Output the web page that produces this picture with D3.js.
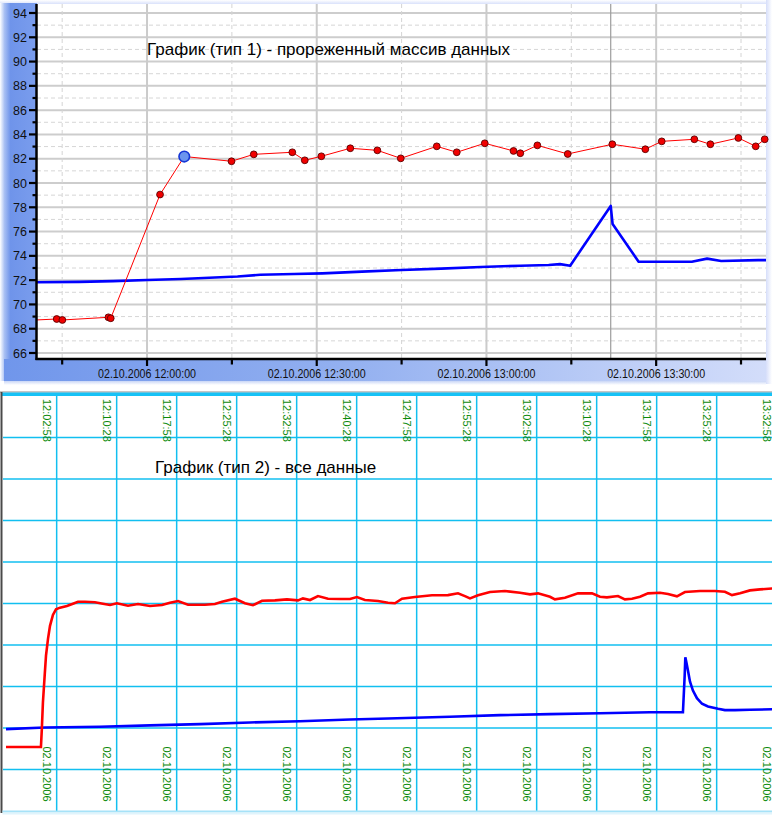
<!DOCTYPE html>
<html><head><meta charset="utf-8">
<script src="https://cdn.jsdelivr.net/npm/d3@7"></script>
<style>body{margin:0;background:#fff}svg{display:block}text{font-family:"Liberation Sans",Arial,sans-serif}</style>
</head><body><svg id="c" width="772" height="822"></svg>
<script>
// ---------------- DATA ----------------
const dateLabel = "02.10.2006";
// Chart 1 (thinned data)
const topTitle = "График (тип 1) - прореженный массив данных";
const topRedTimes = ["11:39:30","11:44:02","11:45:02","11:53:10","11:53:35","12:02:18","12:06:35","12:14:56","12:18:52","12:25:41","12:27:53","12:30:49","12:35:56","12:40:43","12:44:51","12:51:13","12:54:45","12:59:42","13:04:47","13:05:59","13:09:00","13:14:22","13:22:15","13:28:05","13:30:59","13:36:45","13:39:35","13:44:32","13:47:36","13:49:11"];
const topRedValues = [68.70,68.80,68.72,68.94,68.86,79.05,82.18,81.79,82.36,82.53,81.87,82.20,82.86,82.69,82.03,83.02,82.53,83.27,82.64,82.45,83.10,82.39,83.19,82.78,83.43,83.60,83.19,83.71,83.02,83.60];
const topRedShowMarker = [false,true,true,true,true,true,true,true,true,true,true,true,true,true,true,true,true,true,true,true,true,true,true,true,true,true,true,true,true,true];
const highlightIndex = 6;
const topBlueTimes = ["11:40:00","11:48:00","11:54:00","12:00:00","12:06:00","12:11:00","12:16:00","12:20:00","12:26:00","12:31:00","12:38:00","12:45:00","12:52:00","12:59:00","13:06:00","13:11:00","13:13:00","13:14:48","13:21:58","13:22:18","13:26:54","13:36:18","13:39:00","13:41:30","13:48:00","13:51:00"];
const topBlueValues = [71.82,71.86,71.92,72.01,72.10,72.20,72.30,72.44,72.50,72.56,72.70,72.84,72.95,73.08,73.19,73.25,73.32,73.19,78.11,76.62,73.52,73.52,73.77,73.58,73.65,73.65];
const cursorTime = "13:21:58";
const topYMin = 66, topYMax = 94;

// Chart 2 (all data)
const botTitle = "График (тип 2) - все данные";
const botTickTimes = ["12:02:58","12:10:28","12:17:58","12:25:28","12:32:58","12:40:28","12:47:58","12:55:28","13:02:58","13:10:28","13:17:58","13:25:28","13:32:58"];
const botRedTimes = ["11:56:38","12:01:00","12:01:07","12:01:15","12:01:28","12:01:38","12:01:53","12:02:08","12:02:30","12:02:53","12:03:23","12:04:15","12:05:00","12:05:38","12:06:30","12:07:45","12:08:45","12:09:38","12:10:30","12:11:53","12:13:08","12:14:38","12:16:08","12:17:08","12:18:08","12:19:23","12:21:30","12:22:45","12:23:38","12:25:15","12:26:30","12:27:30","12:28:38","12:30:15","12:31:45","12:33:08","12:33:45","12:34:38","12:35:38","12:36:53","12:38:23","12:39:38","12:40:30","12:41:30","12:43:08","12:44:23","12:45:15","12:46:08","12:47:45","12:49:53","12:51:53","12:53:08","12:54:00","12:54:38","12:55:38","12:57:08","12:59:00","13:00:53","13:02:08","13:03:08","13:04:38","13:05:15","13:06:30","13:08:08","13:09:53","13:10:53","13:11:45","13:13:08","13:14:00","13:14:53","13:15:53","13:16:53","13:18:23","13:19:23","13:20:30","13:21:30","13:23:23","13:25:15","13:26:30","13:27:23","13:28:23","13:29:38","13:30:53","13:32:23","13:33:23"];
const botRedValues = [68.86,68.86,70.56,72.96,75.39,77.22,78.76,79.95,80.95,81.47,81.62,81.77,81.98,82.16,82.16,82.11,81.98,81.86,82.02,81.80,81.95,81.77,81.86,82.07,82.23,81.89,81.89,81.95,82.16,82.44,82.02,81.84,82.25,82.29,82.38,82.29,82.47,82.32,82.68,82.44,82.41,82.41,82.59,82.32,82.23,82.07,82.02,82.44,82.59,82.75,82.77,82.93,82.68,82.47,82.75,83.05,83.14,82.98,82.84,82.93,82.62,82.38,82.53,82.93,82.93,82.62,82.56,82.68,82.38,82.44,82.62,82.93,82.98,82.87,82.66,83.05,83.14,83.14,83.07,82.77,82.93,83.20,83.29,83.38,83.40];
const botBlueTimes = ["11:56:38","12:01:30","12:08:23","12:14:38","12:20:53","12:27:08","12:33:23","12:39:38","12:44:23","12:52:08","12:58:23","13:04:38","13:10:53","13:17:08","13:21:15","13:21:28","13:21:33","13:21:40","13:21:53","13:22:08","13:22:30","13:23:00","13:23:38","13:24:23","13:25:38","13:26:30","13:27:45","13:29:38","13:32:23","13:33:23"];
const botBlueValues = [71.80,71.95,72.01,72.13,72.24,72.39,72.50,72.65,72.74,72.89,73.03,73.12,73.20,73.29,73.29,76.50,78.11,77.73,76.94,75.98,75.19,74.52,74.03,73.79,73.59,73.47,73.47,73.50,73.55,73.55];
const botRedRange = [63, 101];      // pen scale of red trace
const botBlueRange = [64.6, 101.1]; // pen scale of blue trace
const botGridDivisions = 10;

// ---------------- DRAW ----------------
const parse = d3.timeParse("%H:%M:%S");
const fmtHM = d3.timeFormat("%H:%M:%S");
const svg = d3.select("#c");
const defs = svg.append("defs");

function lg(id, x2, y2, stops){
  const g = defs.append("linearGradient").attr("id", id).attr("x1",0).attr("y1",0).attr("x2",x2).attr("y2",y2);
  stops.forEach(s => g.append("stop").attr("offset", s[0]).attr("stop-color", s[1]));
}
lg("gLeft", 1, 0, [[0,"#ffffff"],[0.12,"#a9c0f3"],[0.28,"#6f94ea"],[1,"#7a9ded"]]);
lg("gBottom", 1, 0, [[0,"#7096eb"],[0.45,"#93b0f0"],[1,"#d3ddfa"]]);
lg("gTop", 0, 1, [[0,"#ffffff"],[1,"#d9e1fb"]]);
lg("gRight", 1, 0, [[0,"#d6defa"],[1,"#ffffff"]]);
lg("gUnder", 0, 1, [[0,"#c9d6f6"],[1,"#ffffff"]]);

// ---- Top chart ----
const T = {left:37, right:766, top:4, bottom:359};
const x1 = d3.scaleTime().domain([parse("11:40:33"), parse("13:49:25")]).range([T.left, T.right]);
const y1 = d3.scaleLinear().domain([topYMin, topYMax]).range([353, 13]);

svg.append("rect").attr("x",0).attr("y",0).attr("width",772).attr("height",4).attr("fill","url(#gTop)");
svg.append("rect").attr("x",766).attr("y",0).attr("width",6).attr("height",384).attr("fill","url(#gRight)");
svg.append("rect").attr("x",0).attr("y",3).attr("width",T.left).attr("height",378).attr("fill","url(#gLeft)");
svg.append("rect").attr("x",4).attr("y",T.bottom).attr("width",762).attr("height",22).attr("fill","url(#gBottom)");
svg.append("rect").attr("x",4).attr("y",381).attr("width",762).attr("height",4).attr("fill","url(#gUnder)");
svg.append("rect").attr("x",T.left).attr("y",T.top).attr("width",T.right-T.left).attr("height",T.bottom-T.top).attr("fill","#fff");

const gTop = svg.append("g");
const yTicks = d3.range(topYMin, topYMax+1, 1);
// horizontal grid
gTop.selectAll(".hg").data(yTicks).join("line")
  .attr("x1",T.left).attr("x2",T.right).attr("y1",d=>y1(d)).attr("y2",d=>y1(d))
  .attr("stroke", d=> d%2===0 ? "#cdcdcd" : "#d6d6d6")
  .attr("stroke-width", d=> d%2===0 ? 2 : 1)
  .attr("stroke-dasharray", d=> d%2===0 ? null : "4,3");
// vertical grid
const xTicks = d3.timeMinute.every(15).range(x1.domain()[0], x1.domain()[1]);
const isMajor = d => d.getMinutes()%30===0;
gTop.selectAll(".vg").data(xTicks).join("line")
  .attr("x1",d=>x1(d)).attr("x2",d=>x1(d)).attr("y1",T.top).attr("y2",T.bottom)
  .attr("stroke", d=> isMajor(d) ? "#cbcbcb" : "#d4d4d4")
  .attr("stroke-width", d=> isMajor(d) ? 2 : 1)
  .attr("stroke-dasharray", d=> isMajor(d) ? null : "4,3");
// cursor line
gTop.append("line").attr("x1",x1(parse(cursorTime))).attr("x2",x1(parse(cursorTime)))
  .attr("y1",T.top).attr("y2",T.bottom).attr("stroke","#9c9c9c").attr("stroke-width",1.2);

// title
gTop.append("text").attr("x",147).attr("y",55).attr("font-size",17).attr("fill","#000").text(topTitle);

// clip
defs.append("clipPath").attr("id","clipTop").append("rect")
  .attr("x",T.left).attr("y",T.top).attr("width",T.right-T.left).attr("height",T.bottom-T.top);

const topBlue = topBlueTimes.map((t,i)=>({t:parse(t), v:topBlueValues[i]}));
const topRed = topRedTimes.map((t,i)=>({t:parse(t), v:topRedValues[i], m:topRedShowMarker[i], i}));
const line1 = d3.line().x(d=>x1(d.t)).y(d=>y1(d.v));
gTop.append("path").attr("clip-path","url(#clipTop)").attr("d",line1(topBlue))
  .attr("fill","none").attr("stroke","#0000ff").attr("stroke-width",2.6).attr("stroke-linejoin","round");
gTop.append("path").attr("clip-path","url(#clipTop)").attr("d",line1(topRed))
  .attr("fill","none").attr("stroke","#ff0000").attr("stroke-width",1);
gTop.selectAll(".pt").data(topRed.filter(d=>d.m)).join("circle")
  .attr("cx",d=>x1(d.t)).attr("cy",d=>y1(d.v))
  .attr("r",d=> d.i===highlightIndex ? 5.3 : 3.4)
  .attr("fill",d=> d.i===highlightIndex ? "#6b95ee" : "#f00000")
  .attr("stroke",d=> d.i===highlightIndex ? "#1536d6" : "#5a0000")
  .attr("stroke-width",d=> d.i===highlightIndex ? 1.6 : 0.9);

// axes
const ax = svg.append("g").attr("stroke","#000");
ax.append("line").attr("x1",36.5).attr("x2",36.5).attr("y1",T.top).attr("y2",T.bottom+1).attr("stroke-width",2.5);
ax.append("line").attr("x1",35.5).attr("x2",T.right).attr("y1",T.bottom).attr("y2",T.bottom).attr("stroke-width",2.5);
ax.selectAll(".yt").data(yTicks).join("line")
  .attr("x1",d=> d%2===0 ? 29 : 32.5).attr("x2",36).attr("y1",d=>y1(d)).attr("y2",d=>y1(d))
  .attr("stroke-width",2.2);
ax.selectAll(".xt").data(xTicks).join("line")
  .attr("x1",d=>x1(d)).attr("x2",d=>x1(d)).attr("y1",T.bottom).attr("y2",d=> isMajor(d) ? 366 : 364.5)
  .attr("stroke-width",2.2);
svg.append("g").selectAll("text").data(yTicks.filter(d=>d%2===0)).join("text")
  .attr("x",27).attr("y",d=>y1(d)).attr("dy","0.36em").attr("text-anchor","end")
  .attr("font-size",12.5).attr("fill","#111").text(d=>d);
svg.append("g").selectAll("text").data(xTicks.filter(isMajor)).join("text")
  .attr("x",d=>x1(d)).attr("y",378).attr("text-anchor","middle")
  .attr("font-size",12.5).attr("fill","#111")
  .attr("textLength",98).attr("lengthAdjust","spacingAndGlyphs")
  .text(d=> dateLabel + " " + fmtHM(d));

// ---- Bottom chart ----
const B = {left:3, right:772, top:396, bottom:811};
const x2 = d3.scaleTime().domain([parse("11:56:23"), parse("13:33:23")]).range([4, 780]);
const yR = d3.scaleLinear().domain(botRedRange).range([B.bottom, B.top]);
const yB = d3.scaleLinear().domain(botBlueRange).range([B.bottom, B.top]);
const yG = d3.scaleLinear().domain([0, botGridDivisions]).range([B.bottom, B.top]);

const gB = svg.append("g");
gB.append("rect").attr("x",B.left).attr("y",B.top).attr("width",B.right-B.left).attr("height",B.bottom-B.top).attr("fill","#fff");
gB.selectAll(".bh").data(d3.range(1, botGridDivisions)).join("line")
  .attr("x1",B.left).attr("x2",B.right).attr("y1",d=>yG(d)).attr("y2",d=>yG(d))
  .attr("stroke","#12bff0").attr("stroke-width",1.5);
const botTicks = botTickTimes.map(parse);
gB.selectAll(".bv").data(botTicks).join("line")
  .attr("x1",d=>x2(d)).attr("x2",d=>x2(d)).attr("y1",B.top).attr("y2",B.bottom)
  .attr("stroke","#12bff0").attr("stroke-width",1.5);
// frame
gB.append("line").attr("x1",0).attr("x2",772).attr("y1",392).attr("y2",392).attr("stroke","#8d8d8d").attr("stroke-width",1);
gB.append("rect").attr("x",2).attr("y",392.5).attr("width",770).attr("height",3.5).attr("fill","#17c2f6");
gB.append("line").attr("x1",1.5).attr("x2",1.5).attr("y1",392).attr("y2",813).attr("stroke","#4a4a4a").attr("stroke-width",2);
gB.append("line").attr("x1",2.5).attr("x2",772).attr("y1",811.5).attr("y2",811.5).attr("stroke","#a6e2f8").attr("stroke-width",2);
gB.append("line").attr("x1",2.5).attr("x2",772).attr("y1",813.5).attr("y2",813.5).attr("stroke","#e0f4fc").attr("stroke-width",2);

// labels
gB.selectAll(".tl").data(botTicks).join("text")
  .attr("transform",d=>`translate(${x2(d)-14},399) rotate(90)`)
  .attr("font-size",11).attr("fill","#0b8a0b").text(d=>fmtHM(d));
gB.selectAll(".dl").data(botTicks).join("text")
  .attr("transform",d=>`translate(${x2(d)-14},746.5) rotate(90)`)
  .attr("font-size",11).attr("fill","#0b8a0b").text(dateLabel);
gB.append("text").attr("x",155).attr("y",473).attr("font-size",17).attr("fill","#000").text(botTitle);

defs.append("clipPath").attr("id","clipBot").append("rect")
  .attr("x",B.left).attr("y",B.top).attr("width",B.right-B.left).attr("height",B.bottom-B.top);
const botRed = botRedTimes.map((t,i)=>({t:parse(t), v:botRedValues[i]}));
const botBlue = botBlueTimes.map((t,i)=>({t:parse(t), v:botBlueValues[i]}));
gB.append("path").attr("clip-path","url(#clipBot)")
  .attr("d", d3.line().x(d=>x2(d.t)).y(d=>yB(d.v))(botBlue))
  .attr("fill","none").attr("stroke","#0000ff").attr("stroke-width",2.6);
gB.append("path").attr("clip-path","url(#clipBot)")
  .attr("d", d3.line().x(d=>x2(d.t)).y(d=>yR(d.v))(botRed))
  .attr("fill","none").attr("stroke","#ff0000").attr("stroke-width",2.6);
</script></body></html>
